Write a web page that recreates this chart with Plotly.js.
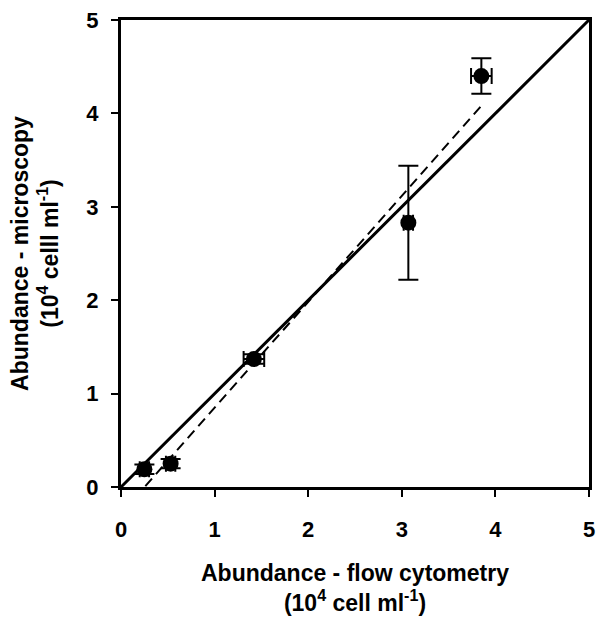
<!DOCTYPE html>
<html><head><meta charset="utf-8">
<script src="https://cdn.plot.ly/plotly-3.0.1.min.js"></script>
<style>html,body{margin:0;padding:0;background:#fff}#plot{width:602px;height:622px}</style>
</head><body><div id="plot"></div>
<script>
var flowCyt = [0.25, 0.53, 1.42, 3.07, 3.85];
var microscopy = [0.19, 0.25, 1.37, 2.83, 4.40];
var flowErr = [0.05, 0.05, 0.11, 0.05, 0.11];
var microErr = [0.05, 0.05, 0.05, 0.61, 0.19];
var oneToOneX = [0, 5];
var oneToOneY = [0, 5];
var regSlope = 1.134;
var regIntercept = -0.285;
var regX = [0.26, 3.84];
var regY = regX.map(function(x){return regSlope*x + regIntercept;});

var fam = 'Liberation Sans, Arial, sans-serif';
var data = [
  {x: oneToOneX, y: oneToOneY, mode: 'lines', line: {color: '#000', width: 3}, hoverinfo: 'skip'},
  {x: regX, y: regY, mode: 'lines', line: {color: '#000', width: 2, dash: '10px,6px'}, hoverinfo: 'skip'},
  {x: flowCyt, y: microscopy, mode: 'markers',
   marker: {color: '#000', size: 16, symbol: 'circle'},
   error_x: {type: 'data', array: flowErr, color: '#000', thickness: 2, width: 8},
   error_y: {type: 'data', array: microErr, color: '#000', thickness: 2, width: 10}}
];
var axisBase = {range: [0, 5], dtick: 1, tick0: 0, showgrid: false, zeroline: false,
  showline: true, linecolor: '#000', linewidth: 3, mirror: true,
  ticks: 'outside', ticklen: 7, tickwidth: 2, tickcolor: '#000',
  tickfont: {family: fam, size: 22, color: '#000', weight: 'bold'}};
var layout = {
  width: 602, height: 622, showlegend: false,
  paper_bgcolor: '#fff', plot_bgcolor: '#fff',
  margin: {l: 121, r: 13, t: 20, b: 135},
  font: {family: fam, size: 22, color: '#000'},
  xaxis: Object.assign({}, axisBase, {ticklabelstandoff: 14,
    title: {text: '<b>Abundance - flow cytometry</b><br><b>(10<sup>4</sup> cell ml<sup>-1</sup>)</b>',
      font: {family: fam, size: 23, color: '#000'}, standoff: 24}}),
  yaxis: Object.assign({}, axisBase, {ticklabelstandoff: 8,
    title: {text: '<b>Abundance - microscopy</b><br><b>(10<sup>4</sup> celll ml<sup>-1</sup>)</b>',
      font: {family: fam, size: 23, color: '#000'}, standoff: 22}})
};
Plotly.newPlot('plot', data, layout, {displayModeBar: false, staticPlot: true});
</script></body></html>
